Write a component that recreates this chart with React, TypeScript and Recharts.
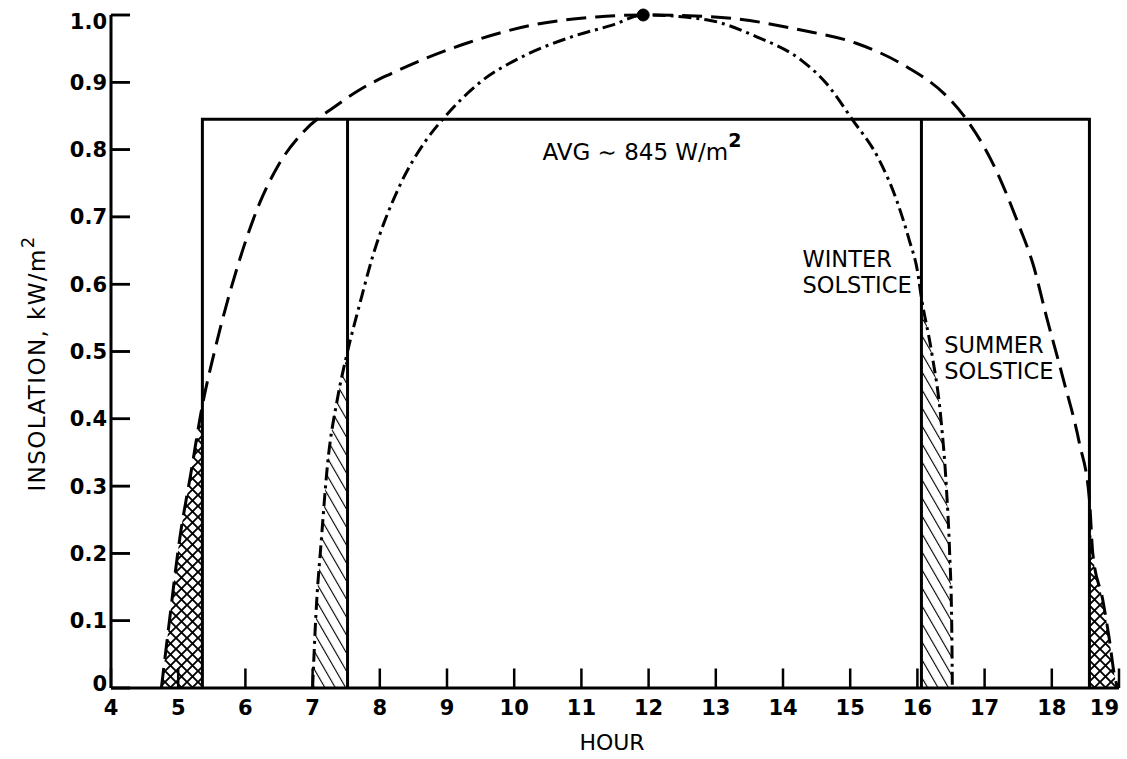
import React from "react";
import { ComposedChart, Line, Area, Scatter, XAxis, YAxis, ReferenceDot } from "recharts";

// ---- data (hours, kW/m2) ----
const summerHour = [4.75, 4.87, 5.02, 5.19, 5.36, 5.54, 5.91, 6.21, 6.48, 6.85, 7.36, 7.77, 8.17, 9.29, 10.27, 11.22, 11.92, 12.6, 13.25, 14.25, 15.09, 15.84, 16.43, 16.73, 17.12, 17.52, 17.72, 17.92, 18.16, 18.41, 18.56, 18.61, 18.76, 18.86, 18.93, 18.98];
const summerKw = [0, 0.1, 0.22, 0.32, 0.42, 0.5, 0.635, 0.72, 0.775, 0.825, 0.866, 0.893, 0.913, 0.958, 0.985, 0.997, 1.0, 0.999, 0.995, 0.978, 0.958, 0.923, 0.88, 0.845, 0.78, 0.685, 0.63, 0.552, 0.463, 0.364, 0.28, 0.2, 0.13, 0.07, 0.02, 0];

const winterHour = [7.0, 7.05, 7.13, 7.22, 7.37, 7.52, 7.7, 7.89, 8.29, 8.69, 8.99, 9.48, 10.12, 10.87, 11.46, 11.92, 12.86, 13.6, 14.27, 14.63, 15.03, 15.43, 15.69, 15.88, 16.0, 16.06, 16.21, 16.35, 16.43, 16.48, 16.51, 16.52];
const winterKw = [0, 0.11, 0.22, 0.33, 0.43, 0.5, 0.57, 0.64, 0.745, 0.814, 0.851, 0.899, 0.938, 0.968, 0.985, 1.0, 0.993, 0.968, 0.933, 0.9, 0.845, 0.785, 0.725, 0.665, 0.62, 0.58, 0.5, 0.4, 0.3, 0.2, 0.1, 0];

const avgLevel = 0.845;
const avgStart = 5.36;
const avgEnd = 18.56;
const winterStart = 7.52;
const winterEnd = 16.06;
const peakHour = 11.92;
const peakKw = 1.0;

const xTicks = [4, 5, 6, 7, 8, 9, 10, 11, 12, 13, 14, 15, 16, 17, 18, 19];
const yTicks = [0, 0.1, 0.2, 0.3, 0.4, 0.5, 0.6, 0.7, 0.8, 0.9, 1.0];
const yTickLabels = ["0", "0.1", "0.2", "0.3", "0.4", "0.5", "0.6", "0.7", "0.8", "0.9", "1.0"];

const X_MIN = 4;
const X_MAX = 19;
// inward tick mark lengths expressed in axis units (about 19 px each)
const xTickMarkLen = 0.029;
const yTickMarkLen = 0.283;

// ---- derived tables ----
const summer = summerHour.map((x, i) => ({ x, y: summerKw[i] }));
const winter = winterHour.map((x, i) => ({ x, y: winterKw[i] }));
const summerLeft = summer.filter((p) => p.x <= avgStart);
const summerRight = summer.filter((p) => p.x >= avgEnd);
const winterLeft = winter.filter((p) => p.x <= winterStart);
const winterRight = winter.filter((p) => p.x >= winterEnd);
const avgBox = [
  { x: avgStart, y: 0 },
  { x: avgStart, y: avgLevel },
  { x: avgEnd, y: avgLevel },
  { x: avgEnd, y: 0 },
];
const winterStartLine = [
  { x: winterStart, y: 0 },
  { x: winterStart, y: avgLevel },
];
const winterEndLine = [
  { x: winterEnd, y: 0 },
  { x: winterEnd, y: avgLevel },
];
const xTickMarks = xTicks.map((t) => [
  { x: t, y: 0 },
  { x: t, y: xTickMarkLen },
]);
const yTickMarks = yTicks.map((t) => [
  { x: X_MIN + 0.001, y: t },
  { x: X_MIN + yTickMarkLen, y: t },
]);
const yTickEnds = yTicks.map((t) => ({ x: X_MIN + yTickMarkLen, y: t }));

const FONT = "'DejaVu Sans', sans-serif";
const TICK_FONT = "'DejaVu Sans', sans-serif";

const XTick = (props: any) => {
  const { x, y, payload } = props;
  const last = payload.value === xTicks[xTicks.length - 1];
  return (
    <text
      x={x}
      y={y + 19}
      textAnchor={last ? "end" : "middle"}
      fontFamily={TICK_FONT}
      fontWeight="bold"
      fontSize={21}
      fill="#000"
    >
      {payload.value}
    </text>
  );
};

const YTick = (props: any) => {
  const { x, y, payload, index } = props;
  const v = payload.value;
  const dy = v === 0 ? -5 : v === 1 ? 6 : 0;
  return (
    <text
      x={x}
      y={y + dy}
      dy="0.36em"
      textAnchor="end"
      fontFamily={TICK_FONT}
      fontWeight="bold"
      fontSize={21}
      fill="#000"
    >
      {yTickLabels[yTicks.indexOf(v)] ?? yTickLabels[index]}
    </text>
  );
};

const YTickMark = (props: any) => {
  const { cx, cy } = props;
  if (typeof cx !== "number" || typeof cy !== "number") return null;
  return <path d={`M${cx - 19},${cy}L${cx},${cy}`} stroke="#000" strokeWidth={2.5} fill="none" />;
};

const YLabel = (props: any) => {
  const vb = props.viewBox;
  const cx = vb.x + 45;
  const cy = vb.y + vb.height / 2 + 12;
  return (
    <text
      x={cx}
      y={cy}
      transform={`rotate(-90, ${cx}, ${cy})`}
      textAnchor="middle"
      fontFamily={FONT}
      fontSize={23}
      letterSpacing={1.4}
      fill="#000"
    >
      INSOLATION,  kW/m<tspan dy={-11} fontSize={18}>2</tspan>
    </text>
  );
};

const XLabel = (props: any) => {
  const vb = props.viewBox;
  return (
    <text
      x={vb.x + vb.width / 2 - 3}
      y={vb.y + 62}
      textAnchor="middle"
      fontFamily={FONT}
      fontSize={22}
      fill="#000"
    >
      HOUR
    </text>
  );
};

const AvgLabel = (props: any) => {
  const vb = props.viewBox;
  return (
    <text x={vb.x} y={vb.y} fontFamily={FONT} fontSize={23} fill="#000">
      AVG ∼ 845 W/m<tspan dy={-13} fontSize={19} fontWeight="bold">2</tspan>
    </text>
  );
};

const TwoLine = (first: string, second: string) => (props: any) => {
  const vb = props.viewBox;
  return (
    <text fontFamily={FONT} fontSize={22.5} fill="#000">
      <tspan x={vb.x} y={vb.y}>{first}</tspan>
      <tspan x={vb.x} y={vb.y + 26}>{second}</tspan>
    </text>
  );
};

export default function App() {
  return (
    <div style={{ position: "absolute", left: 0, top: 0, background: "#fff" }}>
      <ComposedChart width={1127} height={759} margin={{ top: 15, right: 8, bottom: 0, left: 0 }}>
        <defs>
          <pattern id="diagHatch" patternUnits="userSpaceOnUse" width="9" height="9" patternTransform="rotate(-30)">
            <line x1="0" y1="0" x2="0" y2="9" stroke="#000" strokeWidth="2.2" />
          </pattern>
          <pattern id="crossHatch" patternUnits="userSpaceOnUse" width="11" height="11">
            <path d="M0,0 L11,11 M11,0 L0,11 M-1,10 L1,12 M10,-1 L12,1" stroke="#000" strokeWidth="1.9" />
          </pattern>
        </defs>
        <XAxis
          dataKey="x"
          type="number"
          domain={[X_MIN, X_MAX]}
          ticks={xTicks}
          interval={0}
          height={71}
          tickSize={0}
          tickMargin={8}
          tick={<XTick />}
          axisLine={{ stroke: "#000", strokeWidth: 3 }}
          tickLine={false}
          label={{ content: (p: any) => <XLabel {...p} /> }}
        />
        <YAxis
          dataKey="y"
          type="number"
          domain={[0, 1]}
          ticks={yTicks}
          interval={0}
          width={111}
          tickSize={0}
          tickMargin={4}
          tick={<YTick />}
          axisLine={{ stroke: "#000", strokeWidth: 3 }}
          tickLine={false}
          label={{ content: (p: any) => <YLabel {...p} /> }}
        />
        <YAxis
          yAxisId="inner"
          orientation="left"
          mirror
          width={0}
          type="number"
          domain={[0, 1]}
          ticks={yTicks}
          interval={0}
          tick={false}
          axisLine={false}
          tickSize={19}
          tickLine={{ stroke: "#000", strokeWidth: 2.5 }}
        />
        {xTickMarks.map((seg, i) => (
          <Line key={`xt${i}`} data={seg} dataKey="y" type="linear" stroke="#000" strokeWidth={2.5} dot={false} isAnimationActive={false} />
        ))}
        {yTickMarks.map((seg, i) => (
          <Line key={`yt${i}`} data={seg} dataKey="y" type="linear" stroke="#000" strokeWidth={2.5} dot={false} isAnimationActive={false} />
        ))}
        <Scatter data={yTickEnds} dataKey="y" fill="#000" shape={(p: any) => <YTickMark {...p} />} isAnimationActive={false} />
        <Area data={summerLeft} dataKey="y" type="monotone" fill="url(#crossHatch)" fillOpacity={1} stroke="none" isAnimationActive={false} />
        <Area data={summerRight} dataKey="y" type="monotone" fill="url(#crossHatch)" fillOpacity={1} stroke="none" isAnimationActive={false} />
        <Area data={winterLeft} dataKey="y" type="monotone" fill="url(#diagHatch)" fillOpacity={1} stroke="none" isAnimationActive={false} />
        <Area data={winterRight} dataKey="y" type="monotone" fill="url(#diagHatch)" fillOpacity={1} stroke="none" isAnimationActive={false} />
        <Line data={avgBox} dataKey="y" type="linear" stroke="#000" strokeWidth={3} dot={false} isAnimationActive={false} />
        <Line data={winterStartLine} dataKey="y" type="linear" stroke="#000" strokeWidth={3} dot={false} isAnimationActive={false} />
        <Line data={winterEndLine} dataKey="y" type="linear" stroke="#000" strokeWidth={3} dot={false} isAnimationActive={false} />
        <Line data={summer} dataKey="y" type="monotone" stroke="#000" strokeWidth={3} strokeDasharray="20 9" dot={false} isAnimationActive={false} />
        <Line data={winter} dataKey="y" type="monotone" stroke="#000" strokeWidth={3} strokeDasharray="13 5 3 5" dot={false} isAnimationActive={false} />
        <ReferenceDot x={peakHour} y={peakKw} r={6} fill="#000" stroke="#000" ifOverflow="visible" />
        <ReferenceDot x={10.42} y={0.784} r={0} fill="none" stroke="none" ifOverflow="visible" label={{ content: (p: any) => <AvgLabel {...p} /> }} />
        <ReferenceDot x={14.29} y={0.626} r={0} fill="none" stroke="none" ifOverflow="visible" label={{ content: TwoLine("WINTER", "SOLSTICE") }} />
        <ReferenceDot x={16.4} y={0.498} r={0} fill="none" stroke="none" ifOverflow="visible" label={{ content: TwoLine("SUMMER", "SOLSTICE") }} />
      </ComposedChart>
    </div>
  );
}
